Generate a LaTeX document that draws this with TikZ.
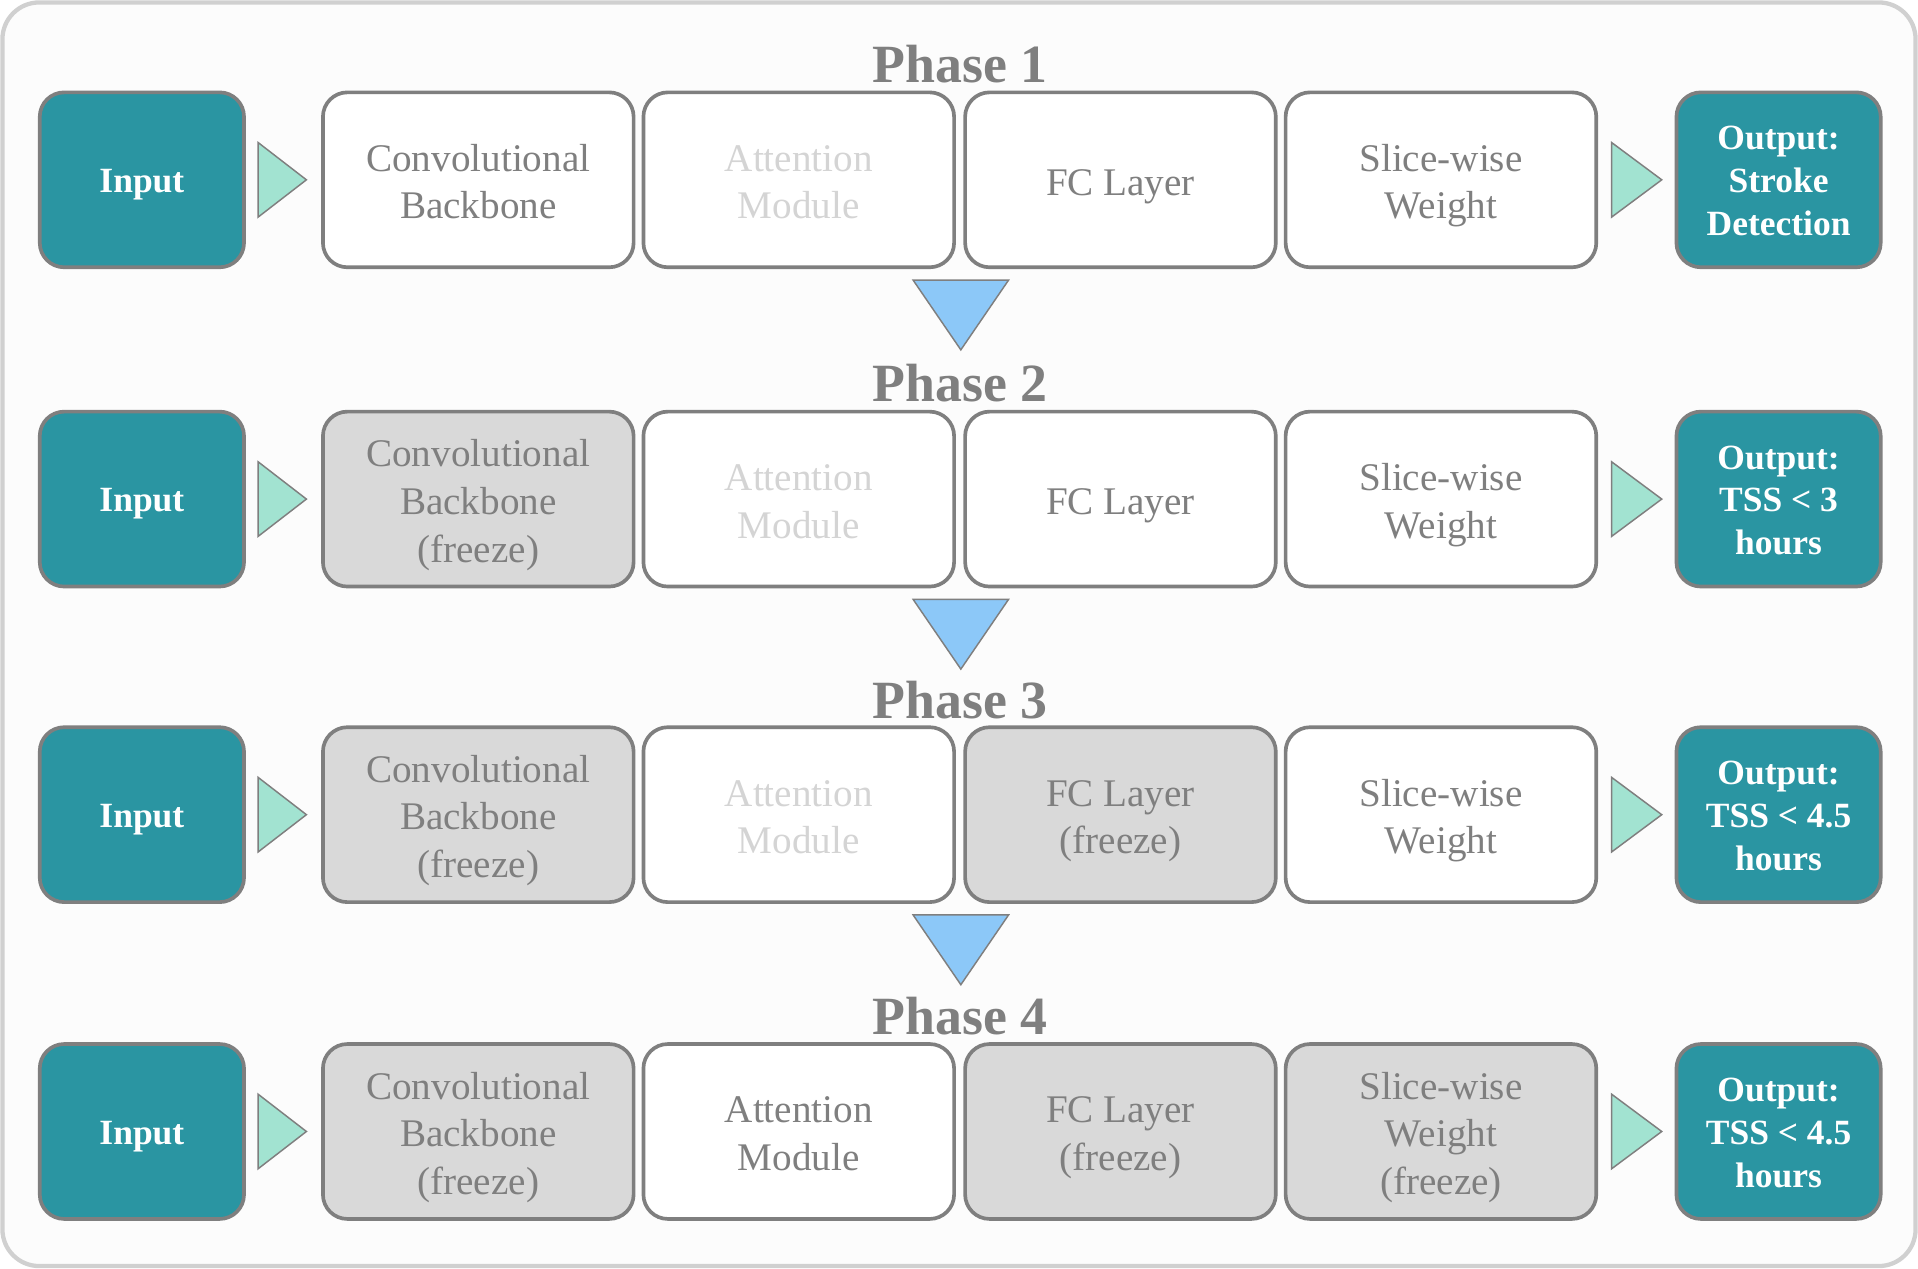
\documentclass[tikz,border=0pt]{standalone}
\usepackage{fontspec}
\setmainfont{Liberation Serif}
\usetikzlibrary{calc}

\definecolor{tealbox}{HTML}{2A95A2}
\definecolor{edgegray}{HTML}{7F7F7F}
\definecolor{freezegray}{HTML}{D9D9D9}
\definecolor{fadegray}{HTML}{D4D4D4}
\definecolor{framegray}{HTML}{D0D0D0}
\definecolor{mint}{HTML}{A2E3D1}
\definecolor{skyblue}{HTML}{8CC8F8}
\newcommand\rowstrut{\rule[-7pt]{0pt}{\baselineskip}}

\begin{document}
\begin{tikzpicture}[x=1pt, y=-1pt,
  block/.style={draw=edgegray, line width=3pt, rounded corners=20pt, fill=white,
    minimum width=254pt, minimum height=143pt, inner sep=0pt, text width=240pt,
    align=center, text=edgegray, font=\fontsize{32}{39}\selectfont,
    execute at begin node={\spaceskip=\fontdimen2\font\rowstrut},
    execute at end node=\rowstrut},
  frozen/.style={block, fill=freezegray},
  faded/.style={block, text=fadegray},
  io/.style={block, fill=tealbox, minimum width=167pt, text width=160pt, text=white,
    font=\fontsize{29}{35}\selectfont\bfseries},
  phase/.style={text=edgegray, font=\fontsize{44}{44}\selectfont\bfseries},
  fwd/.style={draw=edgegray, line width=1.2pt, fill=mint},
  down/.style={draw=edgegray, line width=1.2pt, fill=skyblue}]
  \useasboundingbox (0,0) rectangle (1568,1037);
  \draw[framegray, line width=3.5pt, fill=black!1, rounded corners=30pt] (2,2) rectangle (1566,1035);

  % Phase 1
  \node[io]     (in1)  at (116,147)  {Input};
  \node[block]  (cb1)  at (391,147)  {Convolutional\\Backbone};
  \node[faded]  (am1)  at (653,147)  {Attention\\Module};
  \node[block]  (fc1)  at (916,147)  {FC Layer};
  \node[block]  (sw1)  at (1178,147) {Slice-wise\\Weight};
  \node[io]     (out1) at (1454,147) {Output:\\Stroke\\Detection};
  % Phase 2
  \node[io]     (in2)  at (116,408)  {Input};
  \node[frozen] (cb2)  at (391,408)  {Convolutional\\Backbone\\(freeze)};
  \node[faded]  (am2)  at (653,408)  {Attention\\Module};
  \node[block]  (fc2)  at (916,408)  {FC Layer};
  \node[block]  (sw2)  at (1178,408) {Slice-wise\\Weight};
  \node[io]     (out2) at (1454,408) {Output:\\TSS < 3\\hours};
  % Phase 3
  \node[io]     (in3)  at (116,666)  {Input};
  \node[frozen] (cb3)  at (391,666)  {Convolutional\\Backbone\\(freeze)};
  \node[faded]  (am3)  at (653,666)  {Attention\\Module};
  \node[frozen] (fc3)  at (916,666)  {FC Layer\\(freeze)};
  \node[block]  (sw3)  at (1178,666) {Slice-wise\\Weight};
  \node[io]     (out3) at (1454,666) {Output:\\TSS < 4.5\\hours};
  % Phase 4
  \node[io]     (in4)  at (116,925)  {Input};
  \node[frozen] (cb4)  at (391,925)  {Convolutional\\Backbone\\(freeze)};
  \node[block]  (am4)  at (653,925)  {Attention\\Module};
  \node[frozen] (fc4)  at (916,925)  {FC Layer\\(freeze)};
  \node[frozen] (sw4)  at (1178,925) {Slice-wise\\Weight\\(freeze)};
  \node[io]     (out4) at (1454,925) {Output:\\TSS < 4.5\\hours};

  \foreach \r/\y in {1/52, 2/313, 3/572, 4/831}
    \node[phase] (ph\r) at (785,\y) {Phase \r};

  % green arrows into and out of each row
  \foreach \r in {1,...,4} {
    \draw[fwd] ($(in\r.east)+(10,-30.5)$) -- ($(cb\r.west)+(-12,0)$) -- ($(in\r.east)+(10,30.5)$) -- cycle;
    \draw[fwd] ($(sw\r.east)+(11,-30.5)$) -- ($(out\r.west)+(-10.5,0)$) -- ($(sw\r.east)+(11,30.5)$) -- cycle;
  }
  % blue arrows between phases
  \foreach \r/\s in {1/2, 2/3, 3/4} {
    \coordinate (gap\r) at ($(am\r.south east)!0.5!(fc\r.south west)+(1,9)$);
    \draw[down] ($(gap\r)+(-39,0)$) -- ($(gap\r)+(39,0)$) -- ($(gap\r)+(0,57)$) -- cycle;
  }
\end{tikzpicture}
\end{document}
